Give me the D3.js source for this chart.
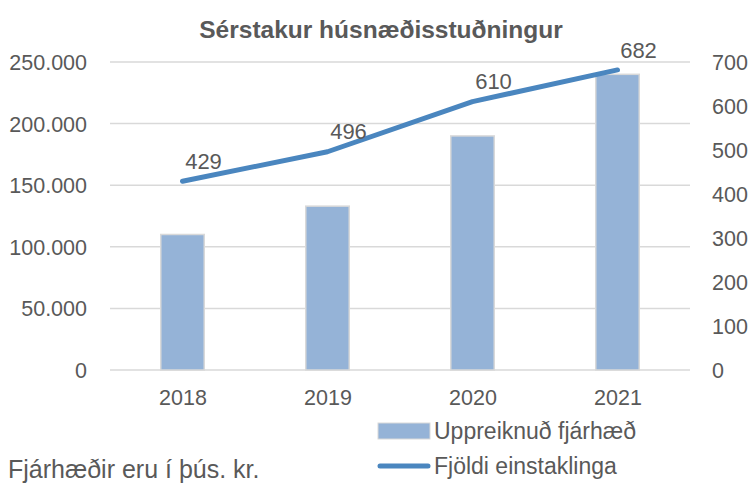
<!DOCTYPE html>
<html>
<head>
<meta charset="utf-8">
<script src="https://cdn.jsdelivr.net/npm/d3@7"></script>
<style>
  body { margin: 0; background: #fff; }
  text { font-family: "Liberation Sans", Arial, sans-serif; fill: #595959; }
</style>
</head>
<body>
<div id="chart"></div>
<script>
// chart data
const years = ["2018", "2019", "2020", "2021"];
const amounts = [110000, 133000, 190000, 240000];   // Uppreiknuð fjárhæð (þús. kr.)
const people = [429, 496, 610, 682];                // Fjöldi einstaklinga
const leftTicks = [0, 50000, 100000, 150000, 200000, 250000];
const rightTicks = [0, 100, 200, 300, 400, 500, 600, 700];

const W = 750, H = 483;
const margin = { top: 62, right: 60, bottom: 113, left: 110 },
    width = W - margin.left - margin.right,
    height = H - margin.top - margin.bottom;

const svg = d3.select("#chart").append("svg")
    .attr("width", W)
    .attr("height", H);

// title
svg.append("text")
    .attr("x", 381)
    .attr("y", 38)
    .attr("text-anchor", "middle")
    .style("font-weight", "bold")
    .style("font-size", "24.5px")
    .text("Sérstakur húsnæðisstuðningur");

const g = svg.append("g")
    .attr("transform", "translate(" + margin.left + "," + margin.top + ")");

// scales
const x = d3.scaleBand().domain(years).range([0, width]).paddingInner(0.7).paddingOuter(0.35);
const xc = d3.scalePoint().domain(years).range([0, width]).padding(0.5);
const yL = d3.scaleLinear().domain([0, 250000]).range([height, 0]);
const yR = d3.scaleLinear().domain([0, 700]).range([height, 0]);

const fmt = d => d3.format(",")(d).replace(/,/g, ".");

// gridlines
g.append("g")
    .selectAll("line")
    .data(leftTicks)
    .join("line")
    .attr("x1", 0)
    .attr("x2", width)
    .attr("y1", d => yL(d))
    .attr("y2", d => yL(d))
    .attr("stroke", "#d9d9d9")
    .attr("stroke-width", 1.5);

// left axis
const leftAxis = g.append("g")
    .attr("transform", "translate(-23,0)")
    .call(d3.axisLeft(yL).tickValues(leftTicks).tickFormat(fmt).tickSize(0).tickPadding(0));
leftAxis.select(".domain").remove();
leftAxis.selectAll("text").style("font-size", "21.5px").attr("dy", "0.35em");

// right axis
const rightAxis = g.append("g")
    .attr("transform", "translate(" + (width + 22) + ",0)")
    .call(d3.axisRight(yR).tickValues(rightTicks).tickSize(0).tickPadding(0));
rightAxis.select(".domain").remove();
rightAxis.selectAll("text").style("font-size", "21.5px").attr("dy", "0.35em");

// bottom axis
const bottomAxis = g.append("g")
    .attr("transform", "translate(0," + height + ")")
    .call(d3.axisBottom(xc).tickSize(0).tickPadding(20));
bottomAxis.select(".domain").remove();
bottomAxis.selectAll("text").style("font-size", "21.5px");

// bars
g.append("g")
    .selectAll("rect")
    .data(amounts)
    .join("rect")
    .attr("x", (d, i) => x(years[i]))
    .attr("y", d => yL(d))
    .attr("width", x.bandwidth())
    .attr("height", d => height - yL(d))
    .attr("fill", "#95b3d7")
    .attr("stroke", "#d9d9d9")
    .attr("stroke-width", 1.5);

// line
const line = d3.line()
    .x((d, i) => xc(years[i]))
    .y(d => yR(d));

g.append("path")
    .datum(people)
    .attr("d", line)
    .attr("fill", "none")
    .attr("stroke", "#4a86bf")
    .attr("stroke-width", 5)
    .attr("stroke-linecap", "round")
    .attr("stroke-linejoin", "round");

// data labels
g.append("g")
    .selectAll("text")
    .data(people)
    .join("text")
    .attr("x", (d, i) => xc(years[i]) + 21)
    .attr("y", d => yR(d) - 20)
    .attr("dy", "0.35em")
    .attr("text-anchor", "middle")
    .style("font-size", "22px")
    .text(d => d);

// legend
const legend = svg.append("g");
legend.append("rect")
    .attr("x", 378).attr("y", 423)
    .attr("width", 52).attr("height", 16)
    .attr("fill", "#95b3d7")
    .attr("stroke", "#d9d9d9");
legend.append("text")
    .attr("x", 434).attr("y", 431)
    .attr("dy", "0.35em")
    .style("font-size", "23px")
    .text("Uppreiknuð fjárhæð");
legend.append("line")
    .attr("x1", 380).attr("x2", 428)
    .attr("y1", 466).attr("y2", 466)
    .attr("stroke", "#4a86bf")
    .attr("stroke-width", 5)
    .attr("stroke-linecap", "round");
legend.append("text")
    .attr("x", 434).attr("y", 466)
    .attr("dy", "0.35em")
    .style("font-size", "23px")
    .text("Fjöldi einstaklinga");

// note
svg.append("text")
    .attr("x", 8).attr("y", 469)
    .attr("dy", "0.35em")
    .style("font-size", "25px")
    .text("Fjárhæðir eru í þús. kr.");
</script>
</body>
</html>
